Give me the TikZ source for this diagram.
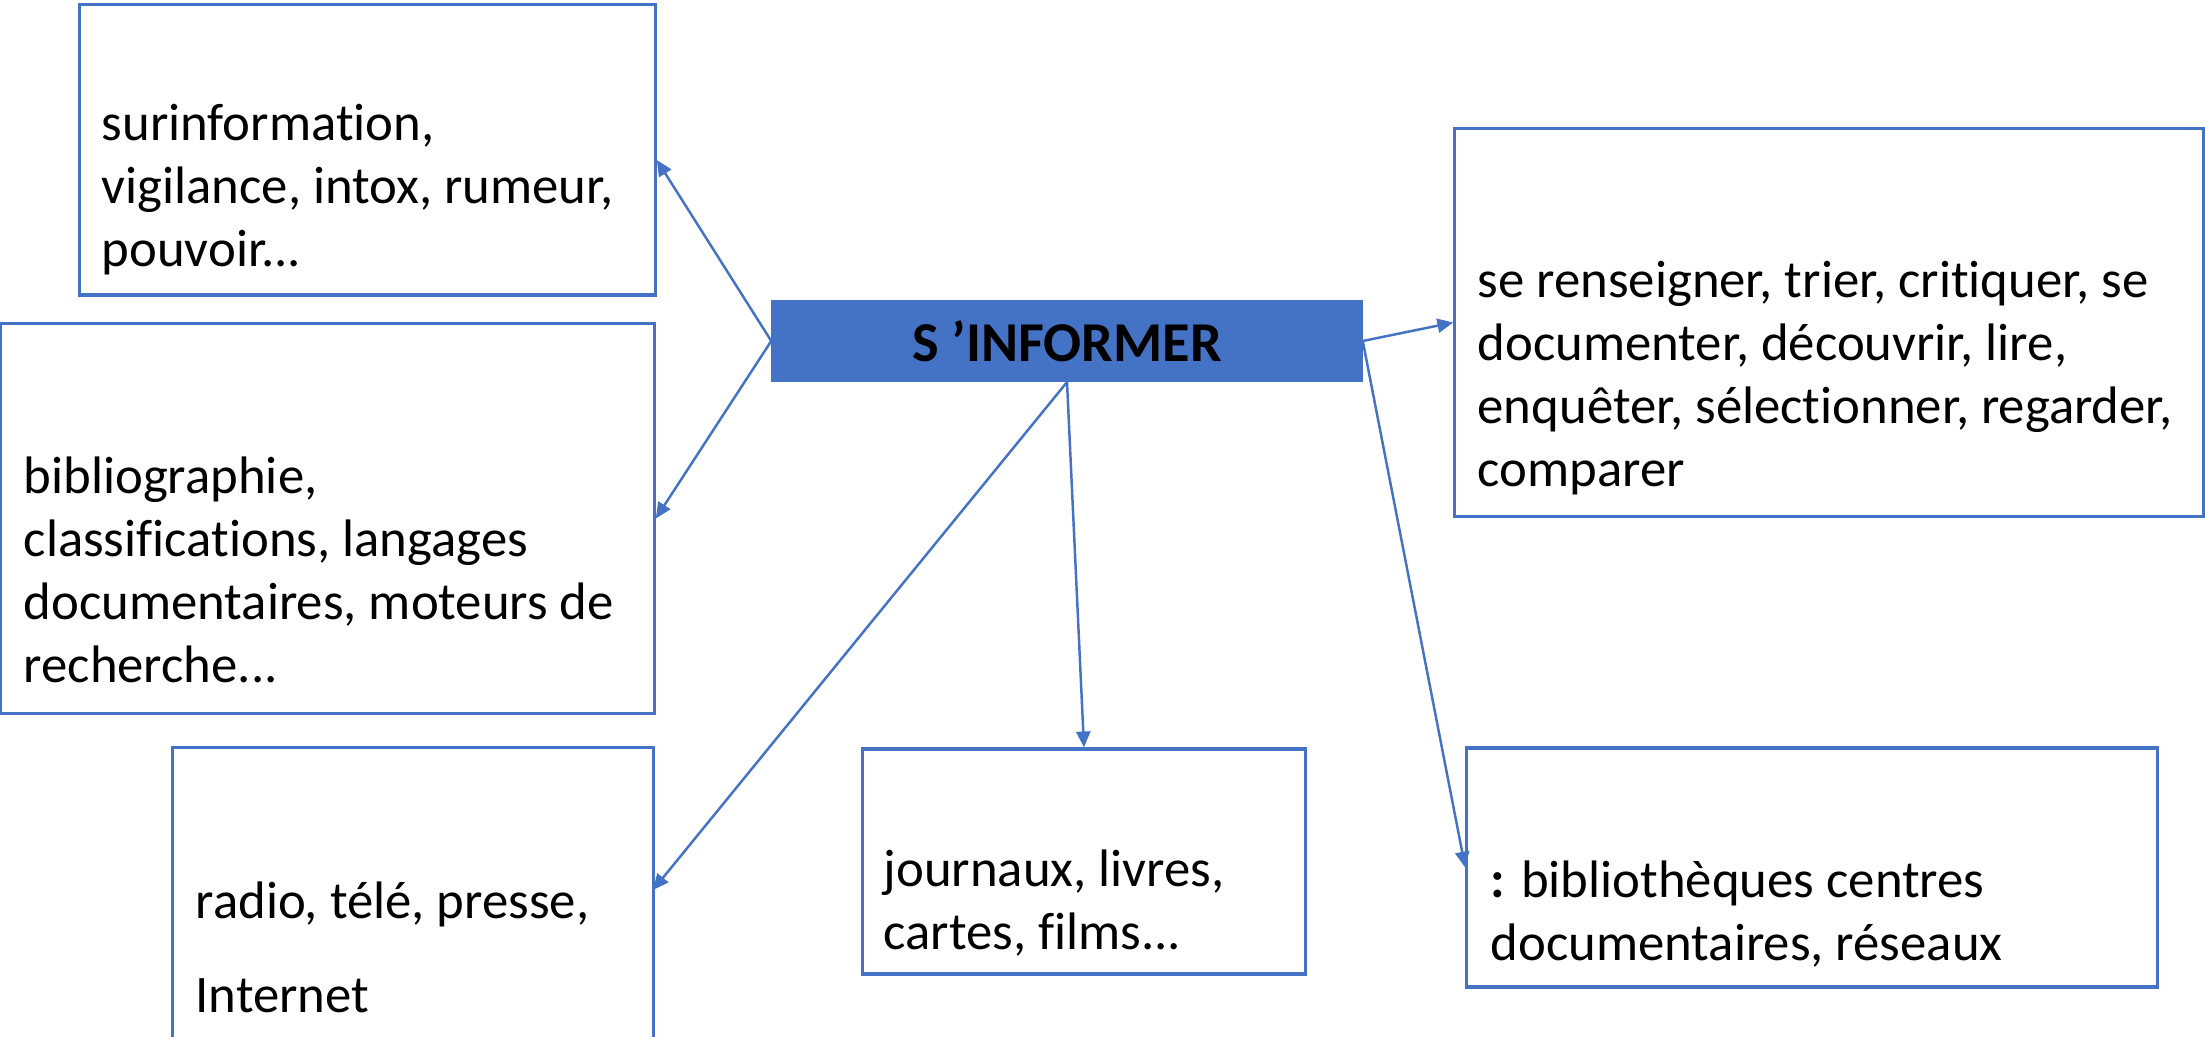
\documentclass[tikz,border=0pt]{standalone}
\usepackage{fontspec}
\setmainfont{Carlito}[Ligatures=NoCommon]
\usetikzlibrary{arrows.meta}
\definecolor{infoblue}{HTML}{4472C4}
\tikzset{
  itembox/.style={draw=infoblue,line width=0.9pt,inner sep=0pt},
  itemtext/.style={anchor=base west,align=left,inner sep=0pt,font=\fontsize{15}{18}\selectfont},
  link/.style={draw=infoblue,line width=0.7pt,-{Triangle[length=4.5pt,width=4pt]}}
}
\begin{document}
\begin{tikzpicture}[x=0.01cm,y=-0.01cm]
    \clip (0,0) rectangle (2205,1037);

    \node[itembox,fill=infoblue,minimum width=5.88cm,minimum height=0.79cm,
      font=\fontsize{16}{19}\selectfont\bfseries] (inform) at (1067,341) {S ’INFORMER};

    \node[itembox,minimum width=5.75cm,minimum height=2.90cm] (boxA) at (367.5,150) {};
    \node[itembox,minimum width=6.53cm,minimum height=3.89cm] (boxB) at (327.5,518.5) {};
    \node[itembox,minimum width=4.80cm,minimum height=3.52cm] (boxC) at (413,924) {};
    \node[itembox,minimum width=4.42cm,minimum height=2.25cm] (boxD) at (1084,861.5) {};
    \node[itembox,minimum width=7.48cm,minimum height=3.87cm] (boxE) at (1829,322.5) {};
    \node[itembox,minimum width=6.90cm,minimum height=2.39cm] (boxF) at (1812,867.5) {};
    \coordinate (boxCin) at (653,890);

    \node[itemtext] (textA) at (101,267) {surinformation,\\vigilance, intox, rumeur,\\pouvoir...};
    \node[itemtext] (textB) at (23,683) {bibliographie,\\classifications, langages\\documentaires, moteurs de\\recherche...};
    \node[itemtext] (textC) at (195,1013) {radio, télé, presse,\\[9pt]Internet};
    \node[itemtext] (textD) at (883,950) {journaux, livres,\\cartes, films...};
    \node[itemtext] (textE) at (1477,487) {se renseigner, trier, critiquer, se\\documenter, découvrir, lire,\\enquêter, sélectionner, regarder,\\comparer};
    \node[itemtext] (textF) at (1490,961) {\textbf{:} bibliothèques centres\\documentaires, réseaux};

    \draw[link] (inform.west) -- ([yshift=-0.1cm]boxA.east);
    \draw[link] (inform.west) -- (boxB.east);
    \draw[link] (inform.south) -- (boxCin);
    \draw[link] (inform.south) -- (boxD.north);
    \draw[link] (inform.east) -- (boxE.west);
    \draw[link] (inform.east) -- (boxF.west);
\end{tikzpicture}
\end{document}
